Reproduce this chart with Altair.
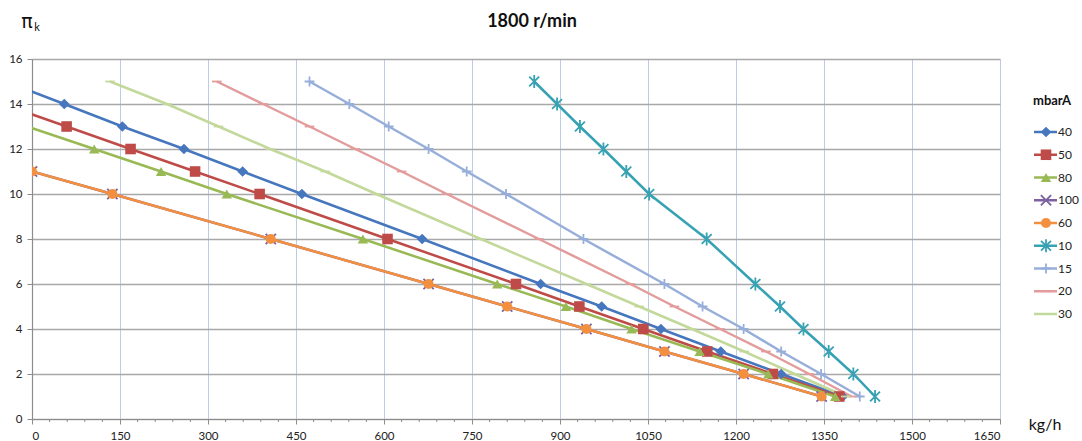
import altair as alt
import pandas as pd

# ---------------- data ----------------
series_names = ["40", "50", "80", "100", "60", "10", "15", "20", "30"]
colors = ["#4677BE", "#BE4B48", "#98B954", "#7D60A0", "#F39040",
          "#36A2B3", "#97AEDA", "#E29C9B", "#C3D89B"]
line_widths = [2.5, 2.5, 2.5, 2.5, 2.8, 2.5, 2.0, 2.0, 2.0]
shapes = ["diamond", "square", "triangle-up",
          "M-1,-1L1,1M-1,1L1,-1",
          "circle",
          "M-1,-1L1,1M-1,1L1,-1M0,-1.3L0,1.3",
          "M-1,0L1,0M0,-1L0,1",
          "M-1,0L1,0",
          "M-1,0L1,0"]
marker_sizes = [115, 90, 115, 150, 105, 160, 120, 45, 45]

x40 = [-45, 55, 154, 259, 359, 460, 665, 867, 971, 1072, 1174, 1277, 1382]
y40 = [15, 14, 13, 12, 11, 10, 8, 6, 5, 4, 3, 2, 1]
x50 = [-50, 59, 168, 278, 388, 606, 825, 933, 1042, 1151, 1263, 1376]
y50 = [14, 13, 12, 11, 10, 8, 6, 5, 4, 3, 2, 1]
x80 = [-8, 106, 220, 332, 564, 793, 910, 1022, 1138, 1255, 1369]
y80 = [13, 12, 11, 10, 8, 6, 5, 4, 3, 2, 1]
x100 = [0, 137, 407, 676, 810, 945, 1078, 1213, 1346]
y100 = [11, 10, 8, 6, 5, 4, 3, 2, 1]
x60 = [0, 137, 407, 676, 810, 945, 1078, 1213, 1346]
y60 = [11, 10, 8, 6, 5, 4, 3, 2, 1]
x10 = [856, 895, 934, 974, 1013, 1052, 1150, 1233, 1275, 1315, 1358, 1400, 1437]
y10 = [15, 14, 13, 12, 11, 10, 8, 6, 5, 4, 3, 2, 1]
x15 = [473, 541, 608, 676, 741, 808, 940, 1078, 1143, 1213, 1277, 1345, 1411]
y15 = [15, 14, 13, 12, 11, 10, 8, 6, 5, 4, 3, 2, 1]
x20 = [315, 394, 473, 551, 630, 707, 864, 1020, 1095, 1173, 1251, 1325, 1397]
y20 = [15, 14, 13, 12, 11, 10, 8, 6, 5, 4, 3, 2, 1]
x30 = [133, 230, 318, 406, 500, 587, 765, 945, 1035, 1125, 1214, 1300, 1387]
y30 = [15, 14, 13, 12, 11, 10, 8, 6, 5, 4, 3, 2, 1]

x_ticks = list(range(0, 1651, 150))
x_minor = [v for v in range(0, 1651, 30) if v % 150 != 0]
y_ticks = list(range(0, 17, 2))

title_text = "1800 r/min"
legend_title = "mbarA"
x_title = "kg/h"

all_series = [("40", x40, y40), ("50", x50, y50), ("80", x80, y80),
              ("100", x100, y100), ("60", x60, y60), ("10", x10, y10),
              ("15", x15, y15), ("20", x20, y20), ("30", x30, y30)]
rows = []
for name, xs, ys in all_series:
    for xv, yv in zip(xs, ys):
        rows.append({"series": name, "x": xv, "y": yv})
df = pd.DataFrame(rows)
legend_df = pd.DataFrame({"series": series_names})
minor_df = pd.DataFrame({"x": x_minor})

FONT = "Lato"
W, H = 968, 360

xenc = alt.X("x:Q", scale=alt.Scale(domain=[0, 1650], nice=False, zero=False),
             axis=alt.Axis(values=x_ticks, format="d", grid=True, gridColor="#BCCBE6", gridWidth=1,
                           domainColor="#8C8C8C", domainWidth=1.2, tickColor="#8C8C8C",
                           tickSize=5, labelFont=FONT, labelFontSize=11.5, labelColor="#222222",
                           labelPadding=6, title=None))
yenc = alt.Y("y:Q", scale=alt.Scale(domain=[0, 16], nice=False),
             axis=alt.Axis(values=y_ticks, format="d", grid=True, gridColor="#A8A8A8", gridWidth=1.5,
                           domainColor="#8C8C8C", domainWidth=1.2, tickColor="#8C8C8C",
                           tickSize=5, labelFont=FONT, labelFontSize=11.5, labelColor="#222222",
                           labelPadding=5, title=None))
color = alt.Color("series:N", scale=alt.Scale(domain=series_names, range=colors), legend=None)
swidth = alt.StrokeWidth("series:N", scale=alt.Scale(domain=series_names, range=line_widths), legend=None)
shape = alt.Shape("series:N", scale=alt.Scale(domain=series_names, range=shapes), legend=None)
msize = alt.Size("series:N", scale=alt.Scale(domain=series_names, range=marker_sizes), legend=None)

base = alt.Chart(df)
filled = ["40", "50", "80", "60"]
stroked = ["10", "15", "20", "30"]

purple_line = base.transform_filter(alt.datum.series == "100").mark_line(clip=True).encode(
    x=xenc, y=yenc, color=color, strokeWidth=swidth)
other_lines = base.transform_filter(alt.datum.series != "100").mark_line(clip=True).encode(
    x=xenc, y=yenc, color=color, strokeWidth=swidth, order="x:Q")
purple_pts = base.transform_filter(alt.datum.series == "100").mark_point(
    filled=False, opacity=1, strokeWidth=1.8, clip=True).encode(
    x=xenc, y=yenc, color=color, shape=shape, size=msize)
filled_pts = base.transform_filter(alt.FieldOneOfPredicate(field="series", oneOf=filled)).mark_point(
    filled=True, opacity=1, clip=True).encode(
    x=xenc, y=yenc, color=color, shape=shape, size=msize)
stroked_pts = base.transform_filter(alt.FieldOneOfPredicate(field="series", oneOf=stroked)).mark_point(
    filled=False, opacity=1, strokeWidth=1.8, clip=True).encode(
    x=xenc, y=yenc, color=color, shape=shape, size=msize)
minor = alt.Chart(minor_df).mark_rule(color="#8C8C8C", strokeWidth=1).encode(
    x=alt.X("x:Q", scale=alt.Scale(domain=[0, 1650], nice=False)),
    y=alt.value(H), y2=alt.value(H + 3))

main = alt.layer(purple_line, other_lines, purple_pts, filled_pts, stroked_pts, minor)

# ---------------- legend & annotations ----------------
ly = alt.Y("series:N", scale=alt.Scale(type="point", domain=series_names, range=[73, 255], padding=0),
           axis=None)
lb = alt.Chart(legend_df)
leg_lines = lb.mark_rule().encode(y=ly, x=alt.value(1002), x2=alt.value(1025),
                                  color=color, strokeWidth=swidth)
leg_purple = lb.transform_filter(alt.datum.series == "100").mark_point(
    filled=False, opacity=1, strokeWidth=1.8).encode(
    y=ly, x=alt.value(1014), color=color, shape=shape, size=msize)
leg_filled = lb.transform_filter(alt.FieldOneOfPredicate(field="series", oneOf=filled)).mark_point(
    filled=True, opacity=1).encode(y=ly, x=alt.value(1014), color=color, shape=shape, size=msize)
leg_stroked = lb.transform_filter(alt.FieldOneOfPredicate(field="series", oneOf=stroked)).mark_point(
    filled=False, opacity=1, strokeWidth=1.8).encode(
    y=ly, x=alt.value(1014), color=color, shape=shape, size=msize)
leg_text = lb.mark_text(align="left", baseline="middle", font=FONT, fontSize=12, color="#222222").encode(
    y=ly, x=alt.value(1026), text="series:N")

one = pd.DataFrame({"a": [0]})
title_mark = alt.Chart(one).mark_text(text=title_text, align="center", baseline="middle", font=FONT,
                                      fontSize=18, fontWeight="bold", color="#111111").encode(
    x=alt.value(500), y=alt.value(-37))
leg_title = alt.Chart(one).mark_text(text=legend_title, align="left", baseline="middle", font=FONT,
                                     fontSize=13, fontWeight="bold", color="#111111").encode(
    x=alt.value(1001), y=alt.value(42))
pi_text = alt.Chart(one).mark_text(text="π", align="center", baseline="middle", font="DejaVu Sans",
                                   fontSize=19, color="#111111").encode(
    x=alt.value(-5), y=alt.value(-37))
k_text = alt.Chart(one).mark_text(text="k", align="center", baseline="middle", font=FONT,
                                  fontSize=11, color="#111111").encode(
    x=alt.value(5), y=alt.value(-31))
kg_text = alt.Chart(one).mark_text(text=x_title, align="center", baseline="middle", font=FONT,
                                   fontSize=16, color="#111111").encode(
    x=alt.value(1013), y=alt.value(366))

legend = alt.layer(leg_lines, leg_purple, leg_filled, leg_stroked, leg_text,
                   title_mark, leg_title, pi_text, k_text, kg_text)

chart = alt.layer(main, legend).resolve_scale(y="independent").properties(
    width=W, height=H,
    autosize=alt.AutoSizeParams(type="none"),
    padding={"left": 32, "top": 59, "right": 82, "bottom": 22},
    background="white",
).configure_view(stroke=None)

chart.save("out.html", embed_options={"renderer": "svg", "actions": False})
